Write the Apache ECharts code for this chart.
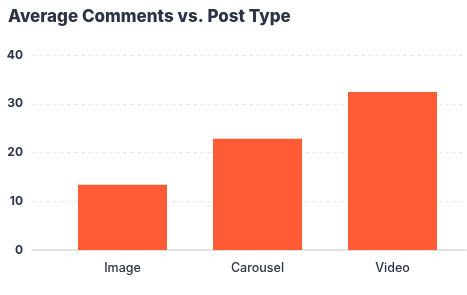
<!DOCTYPE html>
<html><head><meta charset="utf-8">
<script src="https://cdn.jsdelivr.net/npm/echarts@6/dist/echarts.min.js"></script>
<style>html,body{margin:0;padding:0;background:#fff}#c{width:467px;height:295px}</style>
</head><body><div id="c"></div>
<script>
const titleText = "Average Comments vs. Post Type";
const categories = ["Image", "Carousel", "Video"];
const avgComments = [13.4, 22.8, 32.4];
const yTicks = [0, 10, 20, 30, 40];

const textColor = "#2b3344";
const chart = echarts.init(document.getElementById('c'), null, {renderer: 'canvas'});
chart.setOption({
  animation: false,
  title: {
    text: titleText, left: 3, top: 3,
    textStyle: {fontFamily: "Inter", fontWeight: 800, fontSize: 17, color: textColor}
  },
  grid: [
    {left: 32, right: 1, top: 55, bottom: 45},
    {left: 55, right: 7, top: 55, bottom: 45}
  ],
  xAxis: [
    {gridIndex: 0, type: 'value', min: 0, max: 1, show: true,
     axisLine: {show: true, lineStyle: {color: '#dddddd', width: 1.5}},
     axisTick: {show: false}, axisLabel: {show: false}, splitLine: {show: false}},
    {gridIndex: 1, type: 'category', data: categories,
     axisLine: {show: false}, axisTick: {show: false},
     axisLabel: {margin: 12, fontFamily: "Inter", fontWeight: 500, fontSize: 12.5, color: textColor}}
  ],
  yAxis: [
    {gridIndex: 0, type: 'value', min: yTicks[0], max: yTicks[yTicks.length-1], interval: 10,
     axisLine: {show: false}, axisTick: {show: false},
     axisLabel: {margin: 9, fontFamily: "Inter", fontWeight: 700, fontSize: 12, color: textColor},
     splitLine: {show: true, lineStyle: {type: [4, 3], color: '#e6e6e6', width: 1}}},
    {gridIndex: 1, type: 'value', min: yTicks[0], max: yTicks[yTicks.length-1], show: false}
  ],
  series: [{
    type: 'bar', xAxisIndex: 1, yAxisIndex: 1, data: avgComments,
    barWidth: 89, itemStyle: {color: '#FF5C35'}
  }]
});
</script></body></html>
